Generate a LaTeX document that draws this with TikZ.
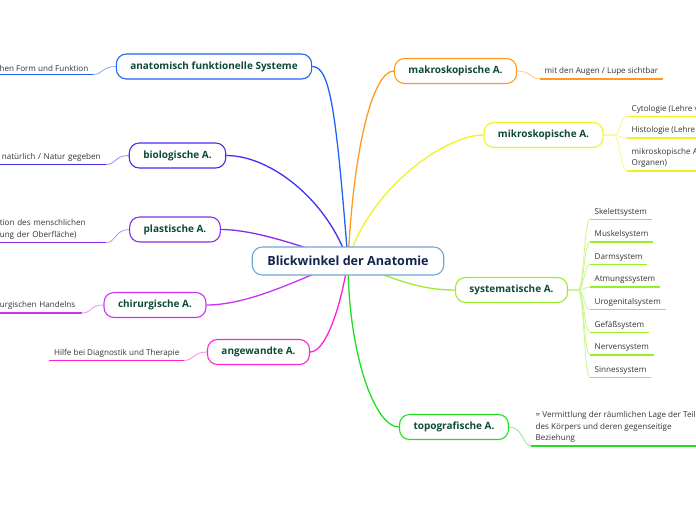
\documentclass[tikz,border=0pt]{standalone}
\usepackage{fontspec}
\setmainfont{Open Sans}
\usepackage{xcolor}
\definecolor{rootline}{HTML}{6AA6DA}
\definecolor{roottext}{HTML}{13244F}
\definecolor{labtext}{HTML}{0E4A38}
\definecolor{cAnat}{HTML}{1F62F5}
\definecolor{cBio}{HTML}{3F2FF5}
\definecolor{cPlast}{HTML}{8A2BE8}
\definecolor{cChir}{HTML}{CC33F0}
\definecolor{cAngew}{HTML}{FF22D5}
\definecolor{cMakro}{HTML}{FF9A1F}
\definecolor{cMikro}{HTML}{F2F222}
\definecolor{cSyst}{HTML}{99EE2A}
\definecolor{cTopo}{HTML}{22DD22}
\usepackage{tikz}
\usetikzlibrary{calc,backgrounds}
\tikzset{every node/.append style={execute at begin node={\hyphenpenalty=10000\exhyphenpenalty=10000}}}

\begin{document}
\begin{tikzpicture}[x=1pt,y=-1pt,
  hub/.style={draw=rootline,fill=white,rounded corners=10pt,line width=1.1pt,minimum height=28pt,inner xsep=15pt,font=\fontsize{12.6}{14}\selectfont\bfseries,text=roottext},
  branch/.style={draw=#1,fill=white,rounded corners=10pt,line width=1.1pt,minimum height=25pt,inner xsep=14pt,font=\fontsize{10}{12}\selectfont\bfseries,text=labtext},
  leaf/.style={anchor=south west,inner xsep=4.5pt,inner ysep=3pt,align=left,font=\fontsize{8.1}{11.5}\selectfont,text=black!80},
  stem/.style={draw=#1,line width=1.3pt},
  twig/.style={draw=#1!55!white,line width=0.8pt},
  uline/.style={draw=#1,line width=1.3pt}]
\useasboundingbox (0,0) rectangle (696,520);
\clip (0,0) rectangle (696,520);
% the centre and its nine views
\node[hub] (root) at (348,261) {Blickwinkel der Anatomie};
\node[branch=cAnat] (anat) at (214,66.5) {anatomisch funktionelle Systeme};
\node[branch=cBio] (bio) at (177.5,155.5) {biologische A.};
\node[branch=cPlast] (plast) at (175,229.5) {plastische A.};
\node[branch=cChir] (chir) at (155,305) {chirurgische A.};
\node[branch=cAngew] (angew) at (258.5,352) {angewandte A.};
\node[branch=cMakro] (makro) at (455.5,71) {makroskopische A.};
\node[branch=cMikro] (mikro) at (543.5,135) {mikroskopische A.};
\node[branch=cSyst] (syst) at (511.5,290) {systematische A.};
\node[branch=cTopo] (topo) at (454,427) {topografische A.};
% left leaves (cut at the border)
\node[leaf,anchor=south east] (anatL) at (93,74.5) {hen Form und Funktion};
\node[leaf,anchor=south east,text width=99.5pt] (bioL) at (106,164.5) {natürlich / Natur gegeben};
\node[leaf,anchor=south east,text width=101.5pt] (plastL) at (106,242.5) {tion des menschlichen\\ung der Oberfläche)};
\node[leaf,anchor=south east,text width=77.5pt] (chirL) at (82,313) {urgischen Handelns};
\node[leaf,anchor=south east] (angewL) at (184,360.5) {Hilfe bei Diagnostik und Therapie};
% right leaves
\node[leaf] (makroL) at (540,79) {mit den Augen / Lupe sichtbar};
\node[leaf] (mik1) at (627,116.5) {Cytologie (Lehre von der Zelle)};
\node[leaf] (mik2) at (627,138) {Histologie (Lehre von den Geweben)};
\node[leaf] (mik3) at (627,171) {mikroskopische Anatomie (Lehre von den\\Organen)};
\foreach \nm [count=\i from 0] in {Skelettsystem,Muskelsystem,Darmsystem,Atmungssystem,Urogenitalsystem,Gefäßsystem,Nervensystem,Sinnessystem}{
  \node[leaf] (sys\i) at (590,{219.3+22.6*\i}) {\nm};}
\node[leaf] (topoL) at (531,446) {= Vermittlung der räumlichen Lage der Teile\\des Körpers und deren gegenseitige\\Beziehung};
% underlines
\foreach \l/\c in {anatL/cAnat,bioL/cBio,plastL/cPlast,chirL/cChir,angewL/cAngew,makroL/cMakro,mik1/cMikro,mik2/cMikro,mik3/cMikro,topoL/cTopo}{
  \draw[uline=\c] (\l.south west) -- (\l.south east);}
\foreach \i in {0,...,7}{\draw[uline=cSyst] (sys\i.south west) -- (sys\i.south east);}
\coordinate (mikfan) at ($(mikro.east)+(10,0)$);
\coordinate (sysfan) at ($(syst.east)+(10,0)$);
\begin{scope}[on background layer]
% connectors from the centre
\draw[stem=cAnat] (anat.east) .. controls +(18,0) and +(-12,-150) .. (root.center);
\draw[stem=cBio] (bio.east) .. controls +(45,0) and +(-20,-60) .. (root.center);
\draw[stem=cPlast] (plast.east) .. controls +(40,0) and +(-30,-8) .. (root.center);
\draw[stem=cChir] (chir.east) .. controls +(50,0) and +(-30,8) .. (root.center);
\draw[stem=cAngew] (angew.east) .. controls +(15,0) and +(-8,50) .. (root.center);
\draw[stem=cMakro] (makro.west) .. controls +(-20,0) and +(6,-120) .. (root.center);
\draw[stem=cMikro] (mikro.west) .. controls +(-40,0) and +(20,-70) .. (root.center);
\draw[stem=cSyst] (syst.west) .. controls +(-40,0) and +(40,15) .. (root.center);
\draw[stem=cTopo] (topo.west) .. controls +(-25,0) and +(0,90) .. (root.center);
% connectors to the leaves
\draw[twig=cAnat] (anat.west) .. controls +(-14,0) and +(10,0) .. (anatL.south east);
\draw[twig=cBio] (bio.west) .. controls +(-14,0) and +(10,0) .. (bioL.south east);
\draw[twig=cPlast] (plast.west) .. controls +(-14,0) and +(10,0) .. (plastL.south east);
\draw[twig=cChir] (chir.west) .. controls +(-14,0) and +(10,0) .. (chirL.south east);
\draw[twig=cAngew] (angew.west) .. controls +(-14,0) and +(10,0) .. (angewL.south east);
\draw[twig=cMakro] (makro.east) .. controls +(14,0) and +(-10,0) .. (makroL.south west);
\draw[twig=cTopo] (topo.east) .. controls +(14,0) and +(-8,0) .. (topoL.south west);
\foreach \l in {mik1,mik2,mik3}{
  \draw[twig=cMikro] (mikro.east) -- (mikfan) .. controls +(7,0) and +(-7,0) .. (\l.south west);}
\foreach \i in {0,...,7}{
  \draw[twig=cSyst] (syst.east) -- (sysfan) .. controls +(6,0) and +(-6,0) .. (sys\i.south west);}
\end{scope}
\end{tikzpicture}
\end{document}
